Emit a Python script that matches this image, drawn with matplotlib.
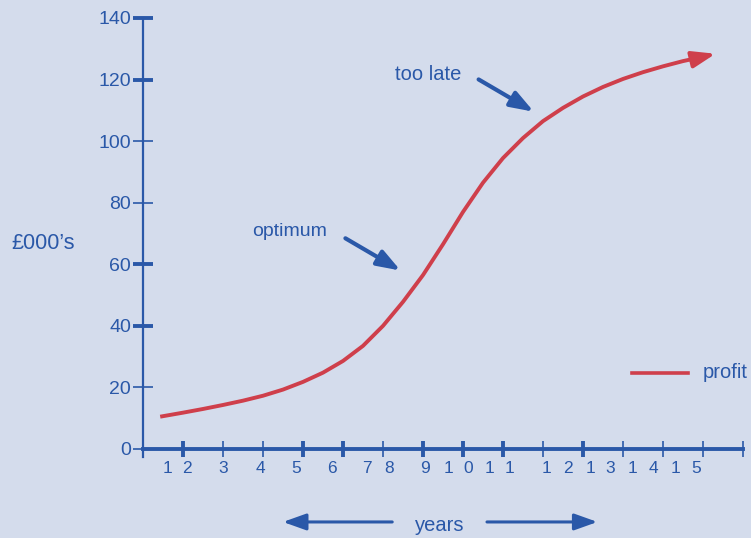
import matplotlib.pyplot as plt

# profit curve (years, £000's)
years = [0.43, 1, 1.5, 2, 2.5, 3, 3.5, 4, 4.5, 5, 5.5, 6, 6.5, 7, 7.5, 8,
         8.5, 9, 9.5, 10, 10.5, 11, 11.5, 12, 12.5, 13, 13.5, 14, 14.38]
profit = [10.5, 11.8, 13.0, 14.3, 15.7, 17.3, 19.3, 21.8, 24.8, 28.6, 33.5, 40.0, 47.8, 56.5, 66.5, 77.0,
          86.5, 94.5, 101.0, 106.5, 110.8, 114.5, 117.6, 120.2, 122.4, 124.3, 126.0, 127.4, 128.6]

y_thick = [40, 60, 120, 140]
y_thin = [0, 20, 80, 100]
x_thick = [1, 4, 5, 7, 8, 9, 11]
x_thin = [2, 3, 6, 10, 12, 13, 14, 15]

# the scanned year labels come out as loose characters
x_chars = ["1", "2", "3", "4", "5", "6", "7", "8", "9", "1", "0",
           "1", "1", "1", "2", "1", "3", "1", "4", "1", "5"]
x_char_pos = [0.6, 1.1, 2.0, 2.93, 3.83, 4.73, 5.6, 6.15, 7.05, 7.63, 8.13,
              8.65, 9.15, 10.08, 10.63, 11.18, 11.68, 12.23, 12.75, 13.3, 13.83]

BG = "#d4dcec"
BLUE = "#2a58a8"
RED = "#cf3f4b"

plt.rcParams["font.family"] = ["Liberation Sans", "DejaVu Sans"]

fig = plt.figure(figsize=(7.51, 5.38), dpi=100, facecolor=BG)
ax = fig.add_axes([143 / 751, (538 - 457) / 538, 600 / 751, 439 / 538])
ax.set_facecolor(BG)
ax.set_xlim(0, 15)
ax.set_ylim(-2.6, 140)

for s in ["top", "right"]:
    ax.spines[s].set_visible(False)
ax.spines["left"].set_color(BLUE)
ax.spines["left"].set_linewidth(1.6)
ax.spines["bottom"].set_position(("data", 0))
ax.spines["bottom"].set_color(BLUE)
ax.spines["bottom"].set_linewidth(2.8)

ax.set_yticks(y_thick)
ax.set_yticks(y_thin, minor=True)
ax.tick_params(axis="y", which="both", direction="inout", length=14, color=BLUE,
               labelcolor=BLUE, labelsize=14, pad=1.5)
ax.tick_params(axis="y", which="major", width=2.8)
ax.tick_params(axis="y", which="minor", width=1.2)
ax.set_yticklabels([str(v) for v in y_thick])
ax.set_yticklabels([str(v) for v in y_thin], minor=True)

ax.set_xticks(x_thick)
ax.set_xticks(x_thin, minor=True)
ax.tick_params(axis="x", which="both", direction="inout", length=12, color=BLUE,
               labelbottom=False)
ax.tick_params(axis="x", which="major", width=2.8)
ax.tick_params(axis="x", which="minor", width=1.2)

for ch, xp in zip(x_chars, x_char_pos):
    ax.text(xp, -6.2, ch, color=BLUE, fontsize=12.5, ha="center", va="center")

head = "-|>,head_length=0.7,head_width=0.25"

# profit curve with arrow head at the end
ax.plot(years[:-1], profit[:-1], color=RED, lw=2.8, solid_capstyle="butt",
        solid_joinstyle="round")
ax.annotate("", xy=(years[-1], profit[-1]), xytext=(years[-2], profit[-2]),
            arrowprops=dict(arrowstyle=head, color=RED, lw=2.8, mutation_scale=20))

# labels with pointers
ax.text(2.73, 70.5, "optimum", color=BLUE, fontsize=14, ha="left", va="center")
ax.annotate("", xy=(6.5, 57.5), xytext=(5.0, 68.9),
            arrowprops=dict(arrowstyle=head, color=BLUE, lw=3, mutation_scale=20))
ax.text(6.3, 121.8, "too late", color=BLUE, fontsize=14.5, ha="left", va="center")
ax.annotate("", xy=(9.83, 109.1), xytext=(8.33, 120.5),
            arrowprops=dict(arrowstyle=head, color=BLUE, lw=3, mutation_scale=20))

ax.text(-3.28, 66.6, "£000’s", color=BLUE, fontsize=15.5, ha="left", va="center")

# legend drawn by hand
ax.plot([12.23, 13.63], [24.7, 24.7], color=RED, lw=2.6)
ax.text(14.0, 24.7, "profit", color=BLUE, fontsize=14.5, ha="left", va="center")

# years axis caption with arrows
ax.text(7.43, -24.7, "years", color=BLUE, fontsize=14.5, ha="center", va="center", clip_on=False)
ax.annotate("", xy=(3.43, -23.7), xytext=(6.3, -23.7), annotation_clip=False,
            arrowprops=dict(arrowstyle=head, color=BLUE, lw=2.2, mutation_scale=20))
ax.annotate("", xy=(11.43, -23.7), xytext=(8.53, -23.7), annotation_clip=False,
            arrowprops=dict(arrowstyle=head, color=BLUE, lw=2.2, mutation_scale=20))

plt.savefig("out.png", dpi=100, facecolor=BG)
